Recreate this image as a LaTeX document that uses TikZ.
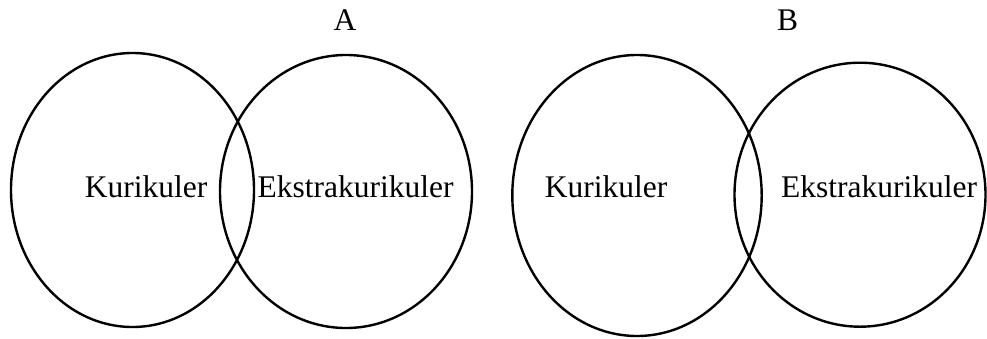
\documentclass[tikz,border=0pt]{standalone}
\usepackage{fontspec}
\setmainfont{Liberation Serif}
\begin{document}
\begin{tikzpicture}[x=1pt,y=-1pt,
  venn/.style={draw=black,line width=2.4pt},
  lbl/.style={inner sep=0pt,anchor=base,font=\fontsize{31.5}{36}\selectfont}]
\useasboundingbox (0,0) rectangle (987,338);
% pair A
\draw[venn] (132.5,190) ellipse [x radius=121.5pt, y radius=137pt];
\draw[venn] (346,191.5) ellipse [x radius=126pt, y radius=136.5pt];
\node[lbl] (ta) at (345,30) {A};
\node[lbl] (k1) at (146,197.7) {Kurikuler};
\node[lbl] (e1) at (355.5,197.7) {Ekstrakurikuler};
% pair B
\draw[venn] (637,195.5) ellipse [x radius=124.7pt, y radius=140.5pt];
\draw[venn] (860,194.7) ellipse [x radius=125.5pt, y radius=132pt];
\node[lbl] (tb) at (787.5,30) {B};
\node[lbl] (k2) at (606,197.7) {Kurikuler};
\node[lbl] (e2) at (879,197.7) {Ekstrakurikuler};
\end{tikzpicture}
\end{document}
